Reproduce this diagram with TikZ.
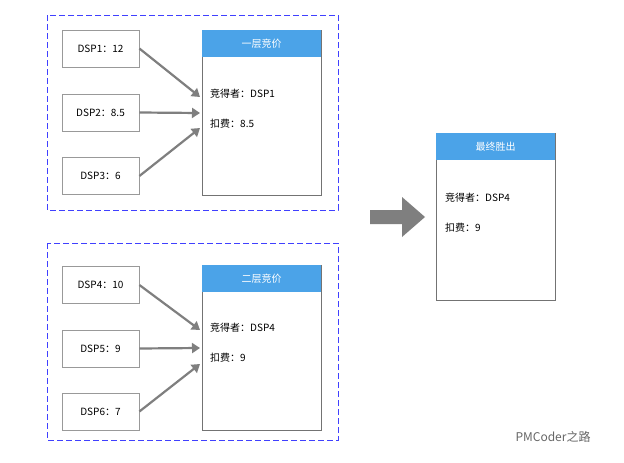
\documentclass[tikz,border=0pt]{standalone}
\usepackage{fontspec}
\setmainfont{Noto Sans CJK SC}
\usetikzlibrary{arrows.meta}
\definecolor{hdr}{HTML}{4BA3E8}
\definecolor{ar}{HTML}{7F7F7F}
\begin{document}
\begin{tikzpicture}[x=1pt,y=-1pt,
  every node/.style={font=\fontsize{10}{12}\selectfont},
  grp/.style={draw=blue!75!white,dash pattern=on 6pt off 3pt,line width=0.8pt},
  small/.style={draw=black!40,line width=0.8pt,minimum width=77pt,minimum height=37pt,inner sep=0},
  bigbox/.style={draw=black!55,line width=0.8pt,fill=white},
  hd/.style={fill=hdr,text=white,minimum width=119pt,minimum height=27pt,inner sep=0,anchor=north west},
  conn/.style={draw=ar,line width=2.2pt,-{Triangle[length=8pt,width=10pt]}},
  txt/.style={anchor=west,inner sep=0}]
\useasboundingbox (0,0) rectangle (624,463);
\fill[white] (0,0) rectangle (624,463);
\draw[grp] (47,15) rectangle (338,210);
\draw[grp] (47,243) rectangle (338,440);
% top group
\node[small] (d1) at (100.5,48.5) {DSP1：12};
\node[small] (d2) at (100.5,112.5) {DSP2：8.5};
\node[small] (d3) at (100.5,176) {DSP3：6};
\draw[bigbox] (202,30) rectangle (321,195);
\node[hd] (h1) at (202,30) {一层竞价};
\coordinate (t1) at (200,97); \coordinate (t2) at (200,113); \coordinate (t3) at (200,128);
\node[txt] (w1) at (210,94) {竞得者：DSP1};
\node[txt] (p1) at (210,124) {扣费：8.5};
\draw[conn] (d1.east) -- (t1);
\draw[conn] (d2.east) -- (t2);
\draw[conn] (d3.east) -- (t3);
% bottom group
\node[small] (d4) at (100.5,285) {DSP4：10};
\node[small] (d5) at (100.5,348.5) {DSP5：9};
\node[small] (d6) at (100.5,411.5) {DSP6：7};
\draw[bigbox] (202,265) rectangle (321,430);
\node[hd] (h2) at (202,265) {二层竞价};
\coordinate (t4) at (200,330); \coordinate (t5) at (200,348); \coordinate (t6) at (200,364);
\node[txt] (w2) at (210,328) {竞得者：DSP4};
\node[txt] (p2) at (210,358) {扣费：9};
\draw[conn] (d4.east) -- (t4);
\draw[conn] (d5.east) -- (t5);
\draw[conn] (d6.east) -- (t6);
% final
\draw[bigbox] (436,133) rectangle (555,300);
\node[hd] (h3) at (436,133) {最终胜出};
\node[txt] (w3) at (445,198) {竞得者：DSP4};
\node[txt] (p3) at (445,228) {扣费：9};
\fill[ar] (370,210) -- (402,210) -- (402,197) -- (425,217) -- (402,237) -- (402,224) -- (370,224) -- cycle;
\node[text=black!60,font=\fontsize{12}{14}\selectfont,anchor=west] (wm) at (512,437) {PMCoder之路};
\end{tikzpicture}
\end{document}
